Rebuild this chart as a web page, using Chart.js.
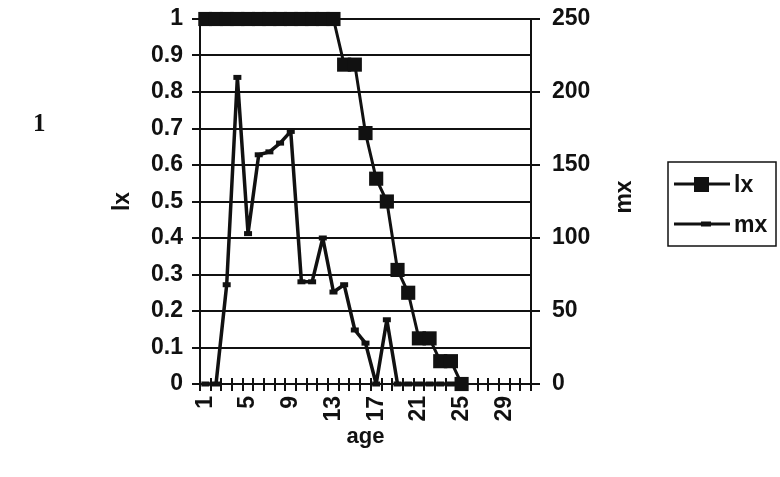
<!DOCTYPE html>
<html>
<head>
<meta charset="utf-8">
<script src="https://cdn.jsdelivr.net/npm/chart.js@4"></script>
<style>
  html, body { margin: 0; padding: 0; background: #fff; }
  #wrap { position: relative; width: 780px; height: 477px; }
  #c { position: absolute; left: 0; top: 0; }
  #stray { position: absolute; left: 33px; top: 108px; font-family: "Liberation Serif", serif; font-weight: bold; font-size: 25px; line-height: 30px; color: #111; }
</style>
</head>
<body>
<div id="wrap">
  <canvas id="c" width="780" height="477"></canvas>
  <div id="stray">1</div>
</div>
<script>
// ---- data ----
const ages = ['1','2','3','4','5','6','7','8','9','10','11','12','13','14','15','16','17','18','19','20','21','22','23','24','25','26','27','28','29','30','31'];
const lxValues = [1,1,1,1,1,1,1,1,1,1,1,1,1,0.875,0.875,0.6875,0.5625,0.5,0.3125,0.25,0.125,0.125,0.0625,0.0625,0,null,null,null,null,null,null];
const mxValues = [0,0,68,210,103,157,159,165,173,70,70,100,63,68,37,28,0,44,0,0,0,0,0,0,0,null,null,null,null,null,null];
const lxTickLabels = ['0','0.1','0.2','0.3','0.4','0.5','0.6','0.7','0.8','0.9','1'];
const mxTickLabels = ['0','50','100','150','200','250'];
const xLabelEvery = 4;

const INK = '#111';
const FONT = "'Liberation Sans', Arial, sans-serif";
const FS = 23;

const xTickCross = {
  id: 'xTickCross',
  afterDatasetsDraw(chart) {
    const x = chart.scales.x, ctx = chart.ctx;
    const y0 = chart.chartArea.bottom;
    const n = x.ticks.length;
    const step = (x.getPixelForValue(1) - x.getPixelForValue(0));
    ctx.save();
    ctx.strokeStyle = INK; ctx.lineWidth = 2;
    for (let i = 0; i <= n; i++) {
      const px = Math.round(x.getPixelForValue(i) - step / 2);
      ctx.beginPath(); ctx.moveTo(px, y0 - 6); ctx.lineTo(px, y0 + 7); ctx.stroke();
    }
    ctx.restore();
  }
};

const extras = {
  id: 'extras',
  afterDraw(chart) {
    const ctx = chart.ctx;
    // right axis title, reading bottom-to-top like the left one
    ctx.save();
    ctx.fillStyle = INK;
    ctx.font = 'bold ' + FS + 'px ' + FONT;
    ctx.textAlign = 'center'; ctx.textBaseline = 'middle';
    ctx.translate(625, 197);
    ctx.rotate(-Math.PI / 2);
    ctx.fillText('mx', 0, 0);
    ctx.restore();

    // boxed legend
    const bx = 668, by = 162, bw = 108, bh = 84;
    ctx.save();
    ctx.strokeStyle = INK; ctx.lineWidth = 1.5;
    ctx.strokeRect(bx, by, bw, bh);
    const rows = [by + 22, by + 62];
    chart.data.datasets.forEach((ds, i) => {
      const y = rows[i];
      ctx.strokeStyle = INK; ctx.lineWidth = 3;
      ctx.beginPath(); ctx.moveTo(674, y); ctx.lineTo(730, y); ctx.stroke();
      ctx.fillStyle = INK;
      if (i === 0) {
        ctx.fillRect(694, y - 7, 15, 15);
      } else {
        ctx.fillRect(701, y - 2.5, 10, 5);
      }
      ctx.font = 'bold ' + FS + 'px ' + FONT;
      ctx.textBaseline = 'middle';
      ctx.textAlign = 'left';
      ctx.fillText(ds.label, 734, y + 2);
    });
    ctx.restore();
  }
};

new Chart(document.getElementById('c'), {
  type: 'line',
  data: {
    labels: ages,
    datasets: [
      {
        label: 'lx', data: lxValues, yAxisID: 'y',
        borderColor: INK, backgroundColor: INK, borderWidth: 3,
        pointStyle: 'rect', pointRadius: 10, pointBackgroundColor: INK, pointBorderColor: INK, pointBorderWidth: 0,
        tension: 0, spanGaps: false, clip: false, borderJoinStyle: 'round'
      },
      {
        label: 'mx', data: mxValues, yAxisID: 'y1',
        borderColor: INK, backgroundColor: INK, borderWidth: 3.5,
        pointStyle: 'line', pointRadius: 4, pointBorderColor: INK, pointBorderWidth: 5,
        tension: 0, spanGaps: false, clip: false, borderJoinStyle: 'round'
      }
    ]
  },
  options: {
    responsive: false,
    devicePixelRatio: 1,
    animation: false,
    events: [],
    layout: { padding: { left: 105, top: 19, right: 140, bottom: 23 } },
    plugins: { legend: { display: false }, tooltip: { enabled: false } },
    scales: {
      x: {
        type: 'category',
        offset: true,
        grid: { display: false },
        border: { display: true, color: INK, width: 2 },
        ticks: {
          autoSkip: false, minRotation: 90, maxRotation: 90, padding: 4,
          color: INK, font: { family: FONT, size: FS, weight: 'bold' },
          callback: (v, i) => (i % xLabelEvery === 0 ? ages[i] : '')
        },
        title: { display: true, text: 'age', color: INK, font: { family: FONT, size: 22, weight: 'bold' } },
        afterFit: (s) => { s.height = 70; s.paddingLeft = 0; s.paddingRight = 0; }
      },
      y: {
        position: 'left', min: 0, max: 1,
        grid: { color: INK, lineWidth: 2, tickLength: 8, drawOnChartArea: true },
        border: { display: true, color: INK, width: 2 },
        ticks: {
          stepSize: 0.1, padding: 9, color: INK,
          font: { family: FONT, size: FS, weight: 'bold' },
          callback: (v, i) => lxTickLabels[i]
        },
        title: { display: true, text: 'lx', color: INK, font: { family: FONT, size: FS, weight: 'bold' } },
        afterFit: (s) => { s.width = 95; s.paddingTop = 0; s.paddingBottom = 0; }
      },
      y1: {
        position: 'right', min: 0, max: 250,
        grid: { color: INK, lineWidth: 2, tickLength: 9, drawOnChartArea: false },
        border: { display: true, color: INK, width: 2 },
        ticks: {
          stepSize: 50, padding: 12, color: INK,
          font: { family: FONT, size: FS, weight: 'bold' },
          callback: (v, i) => mxTickLabels[i]
        },
        title: { display: false },
        afterFit: (s) => { s.width = 109; s.paddingTop = 0; s.paddingBottom = 0; }
      }
    }
  },
  plugins: [xTickCross, extras]
});
</script>
</body>
</html>
